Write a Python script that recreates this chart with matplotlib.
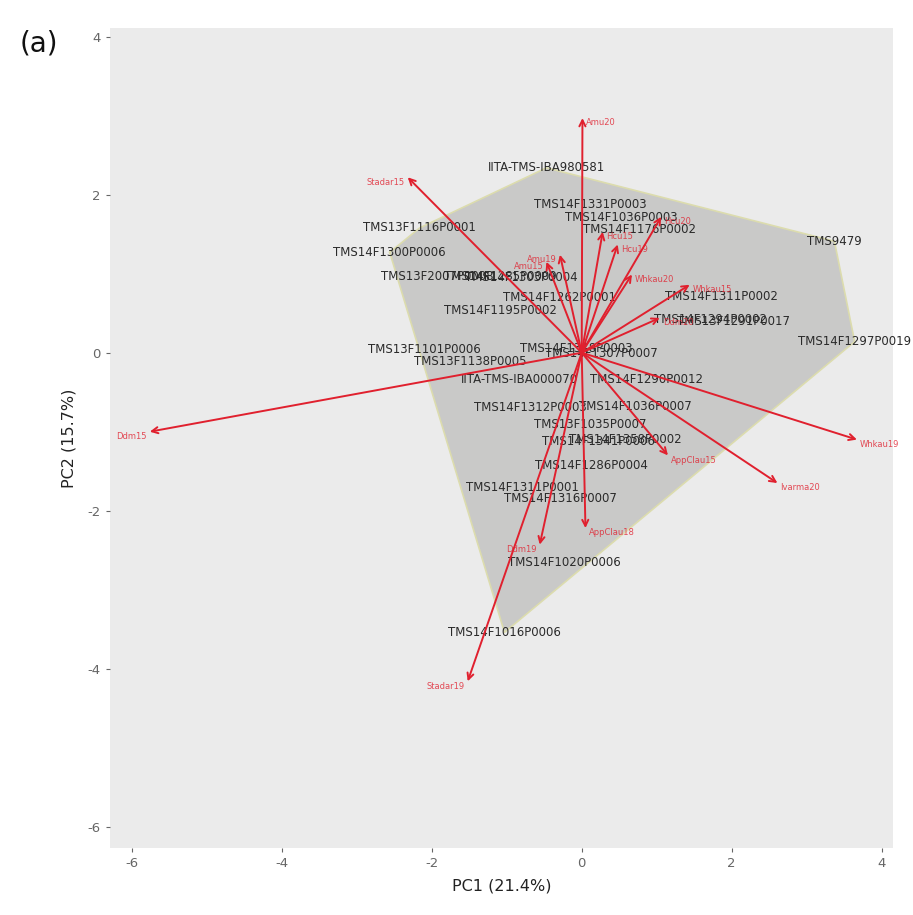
import numpy as np
import matplotlib.pyplot as plt

plt.rcParams['axes.unicode_minus'] = False

# --- sample scores (PC1, PC2) ---
sample_names = [
    'IITA-TMS-IBA980581', 'TMS13F1116P0001', 'TMS14F1300P0006', 'TMS13F2007P0008',
    'TMS14F1285P0009', 'TMS14F1303P0004', 'TMS14F1331P0003', 'TMS14F1036P0003',
    'TMS14F1176P0002', 'TMS14F1262P0001', 'TMS14F1195P0002', 'TMS14F1311P0002',
    'TMS13F1291P0017', 'TMS14F1294P0002', 'TMS9479', 'TMS14F1297P0019',
    'TMS13F1101P0006', 'TMS13F1138P0005', 'TMS14F1307P0007', 'TMS14F1318P0003',
    'IITA-TMS-IBA000070', 'TMS14F1290P0012', 'TMS14F1312P0003', 'TMS14F1036P0007',
    'TMS13F1035P0007', 'TMS14F1358P0002', 'TMS14F1341P0006', 'TMS14F1286P0004',
    'TMS14F1311P0001', 'TMS14F1316P0007', 'TMS14F1020P0006', 'TMS14F1016P0006',
]
pc1 = [-0.47, -2.16, -2.56, -1.92, -1.09, -0.80, 0.11, 0.53,
       0.77, -0.29, -1.09, 1.87, 2.02, 1.72, 3.37, 3.64,
       -2.10, -1.49, 0.26, -0.07, -0.83, 0.86, -0.69, 0.71,
       0.11, 0.58, 0.22, 0.13, -0.79, -0.29, -0.23, -1.03]
pc2 = [2.34, 1.58, 1.27, 0.97, 0.97, 0.95, 1.87, 1.71,
       1.56, 0.70, 0.53, 0.71, 0.39, 0.42, 1.41, 0.14,
       0.04, -0.11, -0.01, 0.05, -0.34, -0.34, -0.70, -0.68,
       -0.91, -1.10, -1.12, -1.43, -1.71, -1.84, -2.66, -3.54]

# --- variable loadings (arrow tips) ---
var_names = ['Ddm15', 'Stadar15', 'Amu20', 'Hcu20', 'Whkau15', 'Ddm20',
             'Amu15', 'Amu19', 'Hcu15', 'Hcu19', 'Whkau20',
             'Whkau19', 'Ivarma20', 'AppClau15', 'AppClau18', 'Ddm19', 'Stadar19']
var_x = [-5.76, -2.32, 0.01, 1.06, 1.44, 1.04,
         -0.47, -0.29, 0.28, 0.48, 0.67,
         3.67, 2.61, 1.15, 0.05, -0.56, -1.52]
var_y = [-1.00, 2.22, 2.97, 1.72, 0.86, 0.44,
         1.15, 1.24, 1.53, 1.37, 0.99,
         -1.10, -1.65, -1.30, -2.22, -2.43, -4.16]


def convex_hull(pts):
    pts = sorted(set(pts))
    def cross(o, a, b):
        return (a[0] - o[0]) * (b[1] - o[1]) - (a[1] - o[1]) * (b[0] - o[0])
    lower, upper = [], []
    for p in pts:
        while len(lower) >= 2 and cross(lower[-2], lower[-1], p) <= 0:
            lower.pop()
        lower.append(p)
    for p in reversed(pts):
        while len(upper) >= 2 and cross(upper[-2], upper[-1], p) <= 0:
            upper.pop()
        upper.append(p)
    return lower[:-1] + upper[:-1]


fig = plt.figure(figsize=(9.13, 9.15), dpi=100)
ax = fig.add_axes([0.1205, 0.0732, 0.8575, 0.8962])
ax.set_facecolor('#ebebeb')
for s in ax.spines.values():
    s.set_visible(False)

# hull of the samples
hull = np.array(convex_hull(list(zip(pc1, pc2))))
ax.fill(hull[:, 0], hull[:, 1], facecolor='#8a8a88', alpha=0.35,
        edgecolor='none', zorder=1)
ax.plot(np.append(hull[:, 0], hull[0, 0]), np.append(hull[:, 1], hull[0, 1]),
        color='#dcdcae', linewidth=1.2, zorder=1)

# sample labels
for name, x, y in zip(sample_names, pc1, pc2):
    ax.text(x, y, name, fontsize=8.5, color='#2a2a2a', ha='center', va='center',
            zorder=2)

# variable arrows
red = '#e0202e'
for name, x, y in zip(var_names, var_x, var_y):
    ax.annotate('', xy=(x, y), xytext=(0, 0),
                arrowprops=dict(arrowstyle='->', color=red, lw=1.4,
                                shrinkA=0, shrinkB=0, mutation_scale=11),
                zorder=3)
    ha = 'left' if x >= 0 else 'right'
    off = 0.04 if x >= 0 else -0.04
    ax.text(x + off, y - 0.06, name, fontsize=6, color=red, ha=ha, va='center',
            alpha=0.8, zorder=4)

ax.set_xlim(-6.29, 4.15)
ax.set_ylim(-6.27, 4.11)
ax.set_xticks([-6, -4, -2, 0, 2, 4])
ax.set_yticks([-6, -4, -2, 0, 2, 4])
ax.tick_params(colors='#666666', labelsize=9.5, length=3, width=0.8,
               labelcolor='#666666')
ax.set_xlabel('PC1 (21.4%)', fontsize=11.5, color='#222222', labelpad=6)
ax.set_ylabel('PC2 (15.7%)', fontsize=11.5, color='#222222', labelpad=8)

fig.text(0.022, 0.952, '(a)', fontsize=20, color='#111111', ha='left', va='center')

fig.savefig('out.png', dpi=100)
